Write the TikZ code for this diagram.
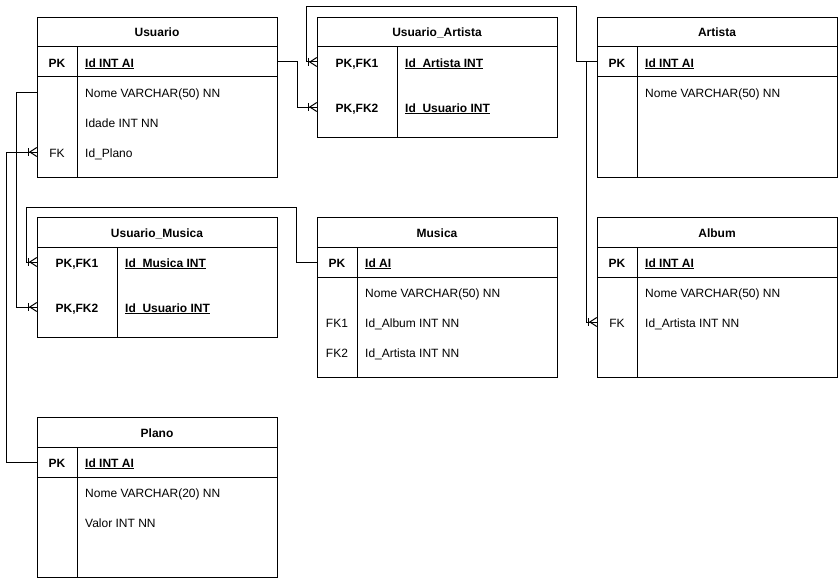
\documentclass[tikz,border=0pt]{standalone}
\usepackage{fontspec}
\setmainfont{Liberation Sans}
\usetikzlibrary{calc}

% underline at a fixed depth below the baseline
\newcommand\uln[1]{\setbox0\hbox{#1}\rlap{\rule[-2pt]{\wd0}{0.7pt}}\box0}

\tikzset{
  rule/.style={line width=1pt},
  tablebox/.style={draw, line width=1pt, anchor=north west, inner sep=0pt,
    minimum width=240pt, fill=white},
  basetext/.style={font=\fontsize{12}{14}\selectfont, inner sep=0pt,
    text height=8.6pt, text depth=0pt, yshift=-0.7pt},
  tabletitle/.style={basetext, font=\fontsize{12}{14}\selectfont\bfseries},
  rowspan/.style={inner sep=0pt, minimum width=240pt, minimum height=10pt},
  keytext/.style={basetext},
  fieldtext/.style={basetext, anchor=west},
  link/.style={line width=1pt},
  crowfoot/.pic={
    \draw[line width=1pt] (-8,-4) -- (-8,4);
    \draw[line width=1pt] (0,-4.5) -- (-7,0) -- (0,4.5);
  },
}

% table frame: name, x, y, height, key column width, pk separator (1/0), title
\newcommand\ertable[7]{%
  \node[tablebox, minimum height=#4pt] (#1) at (#2,#3) {};
  \node[tabletitle] (#1-title) at (#2+120,#3+15) {#7};
  \draw[rule] (#2,#3+30) -- (#2+240,#3+30);
  \ifnum#6=1 \draw[rule] (#2,#3+60) -- (#2+240,#3+60);\fi
  \draw[rule] (#2+#5,#3+30) -- (#2+#5,#3+#4);
}
% field row: name, table x, row y, key column width, key text, field text
\newcommand\erfield[6]{%
  \node[rowspan] (#1) at (#2+120,#3) {};
  \node[keytext] (#1-key) at (#2+#4/2,#3) {#5};
  \node[fieldtext] (#1-field) at (#2+#4+8,#3) {#6};
}

\begin{document}
\begin{tikzpicture}[x=1pt, y=-1pt]
\useasboundingbox (0,0) rectangle (838,578);

% Usuario
\ertable{usuario}{37}{17}{160}{40}{1}{Usuario}
\erfield{usuario-pk}{37}{62}{40}{\bfseries PK}{\uln{\bfseries Id INT AI}}
\erfield{usuario-nome}{37}{92}{40}{}{Nome VARCHAR(50) NN}
\erfield{usuario-idade}{37}{122}{40}{}{Idade INT NN}
\erfield{usuario-fk}{37}{152}{40}{FK}{Id\_Plano}

% Usuario_Artista
\ertable{ua}{317}{17}{120}{80}{0}{Usuario\_Artista}
\erfield{ua-fk1}{317}{62}{80}{\bfseries PK,FK1}{\uln{\bfseries Id\_Artista INT}}
\erfield{ua-fk2}{317}{107}{80}{\bfseries PK,FK2}{\uln{\bfseries Id\_Usuario INT}}

% Artista
\ertable{artista}{597}{17}{160}{40}{1}{Artista}
\erfield{artista-pk}{597}{62}{40}{\bfseries PK}{\uln{\bfseries Id INT AI}}
\erfield{artista-nome}{597}{92}{40}{}{Nome VARCHAR(50) NN}

% Usuario_Musica
\ertable{um}{37}{217}{120}{80}{0}{Usuario\_Musica}
\erfield{um-fk1}{37}{262}{80}{\bfseries PK,FK1}{\uln{\bfseries Id\_Musica INT}}
\erfield{um-fk2}{37}{307}{80}{\bfseries PK,FK2}{\uln{\bfseries Id\_Usuario INT}}

% Musica
\ertable{musica}{317}{217}{160}{40}{1}{Musica}
\erfield{musica-pk}{317}{262}{40}{\bfseries PK}{\uln{\bfseries Id AI}}
\erfield{musica-nome}{317}{292}{40}{}{Nome VARCHAR(50) NN}
\erfield{musica-fk1}{317}{322}{40}{FK1}{Id\_Album INT NN}
\erfield{musica-fk2}{317}{352}{40}{FK2}{Id\_Artista INT NN}

% Album
\ertable{album}{597}{217}{160}{40}{1}{Album}
\erfield{album-pk}{597}{262}{40}{\bfseries PK}{\uln{\bfseries Id INT AI}}
\erfield{album-nome}{597}{292}{40}{}{Nome VARCHAR(50) NN}
\erfield{album-fk}{597}{322}{40}{FK}{Id\_Artista INT NN}

% Plano
\ertable{plano}{37}{417}{160}{40}{1}{Plano}
\erfield{plano-pk}{37}{462}{40}{\bfseries PK}{\uln{\bfseries Id INT AI}}
\erfield{plano-nome}{37}{492}{40}{}{Nome VARCHAR(20) NN}
\erfield{plano-valor}{37}{522}{40}{}{Valor INT NN}

% relationships
\draw[link] (usuario-pk.east) -- ++(20,0) |- (ua-fk2.west);
\pic at (ua-fk2.west) {crowfoot};

\draw[link] (artista-pk.west) -- ++(-20,0) -- ++(0,-55)
  -| ($(ua-fk1.west)+(-10,0)$) -- (ua-fk1.west);
\pic at (ua-fk1.west) {crowfoot};

\draw[link] (artista-pk.west) ++(-10,0) |- (album-fk.west);
\pic at (album-fk.west) {crowfoot};

\draw[link] (musica-pk.west) -- ++(-20,0) -- ++(0,-55)
  -| ($(um-fk1.west)+(-10,0)$) -- (um-fk1.west);
\pic at (um-fk1.west) {crowfoot};

\draw[link] (usuario-nome.west) -- ++(-20,0) |- (um-fk2.west);
\pic at (um-fk2.west) {crowfoot};

\draw[link] (plano-pk.west) -- ++(-30,0) |- (usuario-fk.west);
\pic at (usuario-fk.west) {crowfoot};
\end{tikzpicture}
\end{document}
